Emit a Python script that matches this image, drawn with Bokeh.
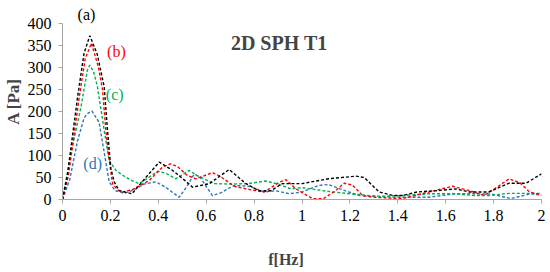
from bokeh.plotting import figure
from bokeh.models import Range1d, FixedTicker, CustomJSTickFormatter, Label
from bokeh.embed import file_html
from bokeh.resources import INLINE

# ---- data ----
f_a = [0, 0.021, 0.063, 0.09, 0.114, 0.145, 0.174, 0.188, 0.202, 0.216, 0.237, 0.29, 0.34, 0.404,
       0.46, 0.494, 0.543, 0.613, 0.696, 0.766, 0.82, 0.87, 0.918, 1.0, 1.11, 1.225, 1.26, 1.322,
       1.38, 1.42, 1.48, 1.56, 1.643, 1.70, 1.78, 1.865, 1.935, 2.0]
A_a = [0, 58, 233, 332, 372, 330, 256, 157, 70, 40, 20, 13, 45, 85,
       66, 51, 28, 36, 68, 36, 20, 20, 36, 36, 47, 53, 50, 17,
       9, 9, 17, 20, 24, 17, 17, 37, 37, 58]

f_b = [0, 0.025, 0.07, 0.095, 0.121, 0.15, 0.167, 0.181, 0.195, 0.209, 0.23, 0.25, 0.29, 0.362,
       0.418, 0.45, 0.48, 0.52, 0.557, 0.626, 0.66, 0.717, 0.787, 0.842, 0.905, 0.933, 0.975,
       1.044, 1.09, 1.14, 1.176, 1.21, 1.253, 1.30, 1.42, 1.53, 1.628, 1.70, 1.76, 1.82, 1.865,
       1.91, 1.95, 2.0]
A_b = [0, 55, 233, 320, 355, 300, 250, 157, 90, 36, 22, 17, 22, 43,
       74, 81, 75, 55, 47, 61, 52, 30, 22, 17, 39, 45, 24,
       2, 2, 20, 37, 33, 9, 5, 2, 17, 30, 20, 9, 30, 47,
       38, 17, 10]

f_c = [0, 0.035, 0.077, 0.104, 0.114, 0.13, 0.146, 0.174, 0.195, 0.223, 0.26, 0.29, 0.32, 0.36,
       0.397, 0.43, 0.473, 0.529, 0.56, 0.633, 0.70, 0.773, 0.85, 0.90, 0.954, 1.0, 1.1, 1.2,
       1.32, 1.42, 1.53, 1.63, 1.72, 1.78, 1.865, 1.98, 2.0]
A_c = [0, 104, 210, 294, 305, 290, 256, 157, 89, 66, 52, 43, 36, 50,
       64, 60, 47, 66, 55, 36, 35, 36, 42, 35, 24, 27, 19, 13,
       7, 9, 13, 13, 9, 9, 14, 14, 14]

f_d = [0, 0.03, 0.063, 0.09, 0.104, 0.123, 0.153, 0.17, 0.195, 0.22, 0.258, 0.30, 0.34, 0.39,
       0.43, 0.487, 0.52, 0.55, 0.575, 0.626, 0.66, 0.717, 0.78, 0.842, 0.89, 0.947, 1.0, 1.07,
       1.11, 1.18, 1.24, 1.39, 1.53, 1.635, 1.733, 1.795, 1.872, 1.955, 2.0]
A_d = [0, 45, 134, 185, 195, 201, 175, 120, 40, 20, 14, 22, 35, 40,
       28, 5, 30, 58, 50, 9, 15, 32, 30, 17, 20, 13, 17, 32,
       34, 20, 9, 5, 5, 13, 13, 12, 2, 13, 10]

series_labels = ["(a)", "(b)", "(c)", "(d)"]
x_ticks = [0, 0.2, 0.4, 0.6, 0.8, 1.0, 1.2, 1.4, 1.6, 1.8, 2.0]
y_ticks = [0, 50, 100, 150, 200, 250, 300, 350, 400]

colors = ["#000000", "#FF0000", "#00B050", "#2E75B6"]
FONT = "Liberation Serif"

p = figure(width=545, height=272, output_backend="svg", toolbar_location=None,
           x_range=Range1d(0, 2), y_range=Range1d(0, 445),
           min_border_left=55, min_border_right=4, min_border_top=3, min_border_bottom=73)
p.outline_line_color = None
p.xgrid.visible = False
p.ygrid.visible = False
p.background_fill_color = "white"
p.border_fill_color = "white"

for fx, ay, c in [(f_d, A_d, colors[3]), (f_c, A_c, colors[2]), (f_b, A_b, colors[1]), (f_a, A_a, colors[0])]:
    p.line(fx, ay, line_color=c, line_width=1.4, line_dash="3 2")

for ax in (p.xaxis[0], p.yaxis[0]):
    ax.axis_line_color = "#A6A6A6"
    ax.major_tick_line_color = "#A6A6A6"
    ax.minor_tick_line_color = None
    ax.major_tick_in = 0
    ax.major_tick_out = 4
    ax.major_label_text_font = FONT
    ax.major_label_text_font_size = "16px"
    ax.major_label_text_color = "black"

p.yaxis.bounds = (0, 400)
p.xaxis.ticker = FixedTicker(ticks=x_ticks)
p.yaxis.ticker = FixedTicker(ticks=y_ticks)
p.xaxis.formatter = CustomJSTickFormatter(code="return tick.toFixed(1).replace(/\\.0$/, '');")
p.xaxis.major_label_standoff = 6
p.yaxis.major_label_standoff = 7

p.yaxis.axis_label = "A [Pa]"
p.yaxis.axis_label_text_font = FONT
p.yaxis.axis_label_text_font_style = "bold"
p.yaxis.axis_label_text_font_size = "17px"
p.yaxis.axis_label_standoff = 2

p.xaxis.axis_label = "f[Hz]" + "\u00a0" * 8
p.xaxis.axis_label_text_font = FONT
p.xaxis.axis_label_text_font_style = "bold"
p.xaxis.axis_label_text_font_size = "16px"
p.xaxis.axis_label_standoff = 27

p.add_layout(Label(x=0.905, y=356, text="2D SPH T1", text_font=FONT, text_font_style="bold",
                   text_font_size="20px", text_align="center", text_baseline="middle"))

label_pos = [(0.10, 420), (0.225, 337), (0.218, 239), (0.126, 81)]
for (lx, ly), t, c in zip(label_pos, series_labels, colors):
    p.add_layout(Label(x=lx, y=ly, text=t, text_font=FONT, text_font_size="16px",
                       text_color=c, text_align="center", text_baseline="middle"))

open("out.html", "w").write(file_html(p, INLINE))
